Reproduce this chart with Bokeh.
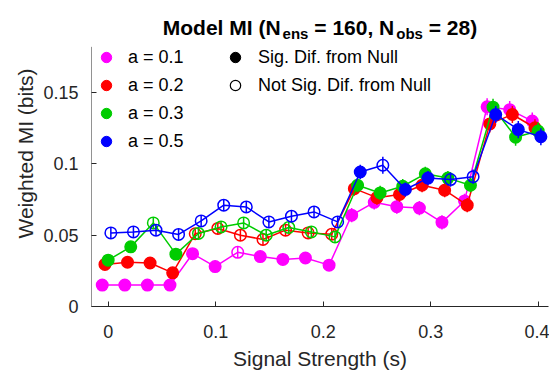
from bokeh.plotting import figure
from bokeh.models import Range1d, FixedTicker, Legend, LegendItem, Label, ColumnDataSource
from bokeh.embed import file_html
from bokeh.resources import INLINE

# ---------------- data ----------------
signal = [0.0, 0.021, 0.042, 0.063, 0.084, 0.105, 0.126, 0.147, 0.168, 0.189,
          0.211, 0.232, 0.253, 0.274, 0.295, 0.316, 0.337, 0.358, 0.379, 0.4]

series_names = ["a = 0.1", "a = 0.2", "a = 0.3", "a = 0.5"]
series_colors = ["#ff00ff", "#ff0000", "#00cc00", "#0000ff"]
x_offsets = [-0.0055, -0.003, 0.0, 0.0025]

mi_a01 = [0.015, 0.015, 0.015, 0.015, 0.037, 0.028, 0.038, 0.035, 0.033, 0.034,
          0.029, 0.064, 0.073, 0.070, 0.069, 0.059, 0.074, 0.140, 0.138, 0.130]
mi_a02 = [0.0295, 0.031, 0.0305, 0.0236, 0.051, 0.0547, 0.050, 0.047, 0.0535, 0.0516,
          0.0507, 0.0826, 0.0763, 0.0785, 0.085, 0.0815, 0.071, 0.128, 0.1346, 0.1253]
mi_a03 = [0.0325, 0.0418, 0.0586, 0.0367, 0.0512, 0.0558, 0.0586, 0.050, 0.0554, 0.0523,
          0.0488, 0.085, 0.0796, 0.0843, 0.093, 0.090, 0.085, 0.1397, 0.1187, 0.123]
mi_a05 = [0.0516, 0.0523, 0.0535, 0.0505, 0.060, 0.071, 0.0698, 0.0593, 0.0633, 0.0663,
          0.0593, 0.0943, 0.099, 0.082, 0.090, 0.089, 0.091, 0.1346, 0.124, 0.119]

sig_a01 = [1, 1, 1, 1, 1, 1, 0, 1, 1, 1, 1, 1, 1, 1, 1, 1, 1, 1, 1, 1]
sig_a02 = [1, 1, 1, 1, 0, 0, 0, 0, 0, 0, 0, 1, 1, 1, 1, 1, 1, 1, 1, 1]
sig_a03 = [1, 1, 0, 1, 0, 0, 0, 0, 0, 0, 0, 1, 1, 1, 1, 1, 1, 1, 1, 1]
sig_a05 = [0, 0, 0, 0, 0, 0, 0, 0, 0, 0, 0, 1, 0, 1, 1, 0, 0, 1, 1, 1]

err_a01 = [0.004, 0.004, 0.004, 0.004, 0.004, 0.004, 0.004, 0.004, 0.004, 0.004,
           0.004, 0.005, 0.005, 0.005, 0.005, 0.005, 0.005, 0.006, 0.006, 0.006]
err_a02 = [0.004, 0.004, 0.004, 0.004, 0.004, 0.004, 0.004, 0.004, 0.004, 0.004,
           0.004, 0.005, 0.005, 0.005, 0.005, 0.005, 0.005, 0.006, 0.006, 0.006]
err_a03 = [0.004, 0.004, 0.004, 0.004, 0.004, 0.004, 0.004, 0.004, 0.004, 0.004,
           0.004, 0.005, 0.005, 0.005, 0.005, 0.005, 0.005, 0.006, 0.006, 0.006]
err_a05 = [0.004, 0.004, 0.004, 0.004, 0.004, 0.004, 0.004, 0.004, 0.004, 0.004,
           0.004, 0.005, 0.006, 0.005, 0.005, 0.005, 0.005, 0.006, 0.006, 0.006]

x_ticks = [0, 0.1, 0.2, 0.3, 0.4]
x_tick_labels = ["0", "0.1", "0.2", "0.3", "0.4"]
y_ticks = [0, 0.05, 0.1, 0.15]
y_tick_labels = ["0", "0.05", "0.1", "0.15"]

sig_legend_labels = ["Sig. Dif. from Null", "Not Sig. Dif. from Null"]
x_label = "Signal Strength (s)"
y_label = "Weighted MI (bits)"

# ---------------- figure ----------------
FONT = "Liberation Sans"
AX = "#262626"
X_START, X_END = -0.0155, 0.4096
Y_AXIS_TOP = 0.182          # where the visible y-axis line ends
Y_VIEW_TOP = 0.2145         # frame extends up to the top of the canvas (room for title/legend)

p = figure(width=549, height=372, output_backend="svg", toolbar_location=None,
           title=None,
           x_range=Range1d(X_START, X_END), y_range=Range1d(0, Y_VIEW_TOP),
           min_border_left=91, min_border_right=1, min_border_top=0, min_border_bottom=65)
p.outline_line_color = None
p.xgrid.visible = False
p.ygrid.visible = False
p.background_fill_color = "white"
p.border_fill_color = "white"

for ax in (p.xaxis[0], p.yaxis[0]):
    ax.axis_line_color = AX
    ax.major_tick_line_color = AX
    ax.major_tick_in = 5
    ax.major_tick_out = 0
    ax.minor_tick_line_color = None
    ax.major_label_text_font = FONT
    ax.major_label_text_font_size = "18px"
    ax.major_label_text_color = AX
    ax.axis_label_text_font = FONT
    ax.axis_label_text_font_size = "21px"
    ax.axis_label_text_font_style = "normal"
    ax.axis_label_text_color = AX

xa = p.xaxis[0]
xa.ticker = FixedTicker(ticks=x_ticks)
xa.major_label_overrides = {t: l for t, l in zip(x_ticks, x_tick_labels)}
xa.axis_label = x_label
xa.major_label_standoff = 18
xa.axis_label_standoff = 6

ya = p.yaxis[0]
ya.ticker = FixedTicker(ticks=y_ticks)
ya.major_label_overrides = {t: l for t, l in zip(y_ticks, y_tick_labels)}
ya.axis_label = y_label
ya.major_label_standoff = 13
ya.axis_label_standoff = 3
ya.axis_line_color = None
# visible part of the y-axis line (stops at the top of the data area)
p.segment(x0=[X_START], y0=[0], x1=[X_START], y1=[Y_AXIS_TOP], line_color=AX, line_width=1)

all_mi = [mi_a01, mi_a02, mi_a03, mi_a05]
all_sig = [sig_a01, sig_a02, sig_a03, sig_a05]
all_err = [err_a01, err_a02, err_a03, err_a05]

for name, color, off, mi, sig, err in zip(series_names, series_colors, x_offsets,
                                          all_mi, all_sig, all_err):
    xs = [s + off for s in signal]
    src = ColumnDataSource(dict(x=xs, y=mi,
                                lo=[m - e for m, e in zip(mi, err)],
                                hi=[m + e for m, e in zip(mi, err)]))
    p.segment(x0="x", y0="lo", x1="x", y1="hi", source=src, line_color=color, line_width=1.5)
    p.line(x="x", y="y", source=src, line_color=color, line_width=1.5)
    fx = [x for x, s in zip(xs, sig) if s]
    fy = [y for y, s in zip(mi, sig) if s]
    ox = [x for x, s in zip(xs, sig) if not s]
    oy = [y for y, s in zip(mi, sig) if not s]
    p.scatter(x=fx, y=fy, marker="circle", size=11.5, fill_color=color, line_color=color, line_width=1.5)
    p.scatter(x=ox, y=oy, marker="circle", size=11.5, fill_color=None, line_color=color, line_width=1.5)

# ---------------- legends ----------------
NAN = float("nan")
leg1_items = []
for name, color in zip(series_names, series_colors):
    r = p.scatter(x=[NAN], y=[NAN], marker="circle", fill_color=color, line_color=color)
    leg1_items.append(LegendItem(label=name, renderers=[r]))
r_sig = p.scatter(x=[NAN], y=[NAN], marker="circle", fill_color="black", line_color="black")
r_nsig = p.scatter(x=[NAN], y=[NAN], marker="circle", fill_color=None, line_color="black", line_width=1.2)
leg2_items = [LegendItem(label=sig_legend_labels[0], renderers=[r_sig]),
              LegendItem(label=sig_legend_labels[1], renderers=[r_nsig])]

def make_legend(items, loc, standoff):
    return Legend(items=items, location=loc, orientation="vertical",
                  glyph_width=26, glyph_height=26, spacing=2, padding=0, margin=0,
                  label_standoff=standoff, label_text_font=FONT, label_text_font_size="18px",
                  label_text_color="black", label_height=26,
                  background_fill_alpha=0, border_line_alpha=0)

p.add_layout(make_legend(leg1_items, (2, 152), 9))
p.add_layout(make_legend(leg2_items, (131, 208), 10))

# ---------------- title with subscripts ----------------
bold_w = {"M": 833, "o": 611, "d": 611, "e": 556, "l": 278, " ": 278, "I": 278, "(": 333,
          "N": 722, "n": 611, "s": 556, "=": 584, "1": 556, "6": 556, "0": 556, ",": 278,
          "b": 611, "2": 556, "8": 556, ")": 333}
SUB_GAP = 2
pieces = [("Model MI (N", 21, False), ("ens", 15, True), (" = 160, N", 21, False),
          ("obs", 15, True), (" = 28)", 21, False)]
widths = [sum(bold_w[c] for c in t) * fs / 1000.0 + (SUB_GAP if sub else 0)
          for t, fs, sub in pieces]
frame_w = 549 - 91 - 1
x0 = frame_w / 2 - sum(widths) / 2
for (t, fs, sub), w in zip(pieces, widths):
    lead = len(t) - len(t.lstrip(" "))
    shift = lead * bold_w[" "] * fs / 1000.0 + (SUB_GAP if sub else 0)
    p.add_layout(Label(x=x0 + shift, y=(273 if sub else 279), x_units="screen", y_units="screen",
                       text=t.lstrip(" "), text_font=FONT, text_font_size=f"{fs}px",
                       text_font_style="bold", text_color="black",
                       text_align="left", text_baseline="alphabetic"))
    x0 += w

open("out.html", "w").write(file_html(p, INLINE))
